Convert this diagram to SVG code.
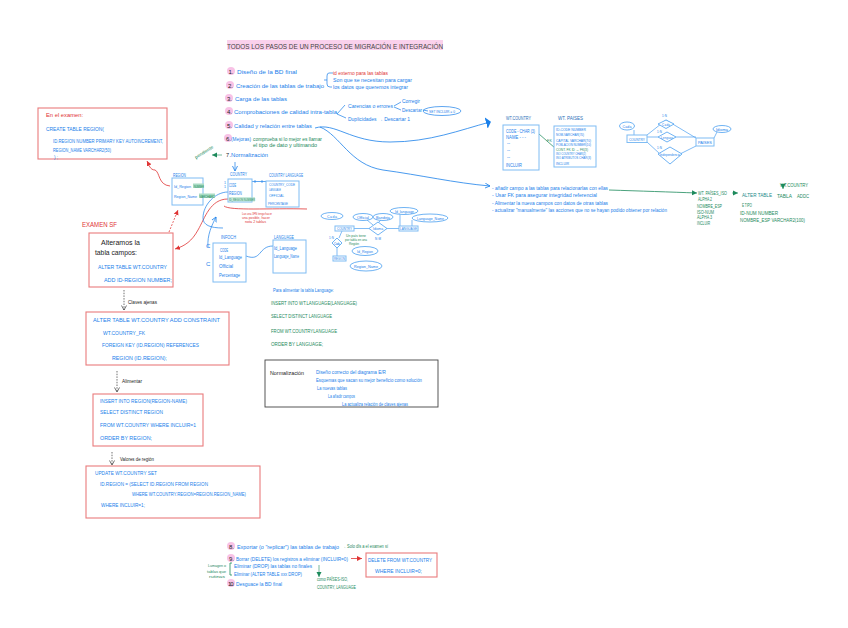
<svg xmlns="http://www.w3.org/2000/svg" width="848" height="628" viewBox="0 0 848 628">
<defs>
<marker id="ab" markerWidth="6" markerHeight="6" refX="5" refY="3" orient="auto" markerUnits="userSpaceOnUse"><path d="M0,0.5L5,3L0,5.5" fill="none" stroke="#1a80ea" stroke-width="0.8"/></marker>
<marker id="ar" markerWidth="6" markerHeight="6" refX="5" refY="3" orient="auto" markerUnits="userSpaceOnUse"><path d="M0,0.5L5,3L0,5.5Z" fill="#e03535"/></marker>
<marker id="ag" markerWidth="6" markerHeight="6" refX="5" refY="3" orient="auto" markerUnits="userSpaceOnUse"><path d="M0,0.5L5,3L0,5.5Z" fill="#1d8a5c"/></marker>
<marker id="ak" markerWidth="6" markerHeight="6" refX="5" refY="3" orient="auto" markerUnits="userSpaceOnUse"><path d="M0.5,0.5L5,3L0.5,5.5" fill="none" stroke="#333" stroke-width="0.7"/></marker>
<marker id="abig" markerWidth="6" markerHeight="14" refX="4" refY="7" orient="auto" markerUnits="userSpaceOnUse"><path d="M0,1L5,7L0,13Z" fill="#1a80ea"/></marker>
</defs>
<style>
text{font-family:"Liberation Sans",Arial,sans-serif;font-size:6px;fill:#1a80ea}
.s{font-size:4.6px}.xs{font-size:3.6px}.m{font-size:5.6px}.l{font-size:7.5px}
.g{fill:#1d8a5c}.r{fill:#e03535}.k{fill:#222}
.bb{fill:#fff;stroke:#7fbcf3;stroke-width:1}
.rb{fill:#fff;stroke:#e97b7c;stroke-width:1.1}
.c{fill:none;stroke:#1a80ea;stroke-width:.7}
.cr{fill:none;stroke:#e03535;stroke-width:.8}
.cg{fill:none;stroke:#1d8a5c;stroke-width:.8}
.pk{fill:#f8c2e6}
.hg{fill:#a9dcc4}
.e{fill:#fff;stroke:#4a9ff0;stroke-width:.8}
</style>

<g id="title">
<rect x="227" y="40" width="216" height="10" class="pk" opacity=".75"/>
<text x="227" y="48.500" class="l" style="fill:#444" textLength="216" lengthAdjust="spacingAndGlyphs">TODOS LOS PASOS DE UN PROCESO DE MIGRACIÓN E INTEGRACIÓN</text>
</g>

<g id="steps">
<circle cx="231" cy="71" r="4" class="pk"/><circle cx="230" cy="85" r="4" class="pk"/><circle cx="229" cy="98" r="4" class="pk"/><circle cx="229" cy="111" r="4" class="pk"/><circle cx="229" cy="125" r="4" class="pk"/><circle cx="228" cy="138" r="4" class="pk"/>
<text x="228.500" y="74" class="k" textLength="5">1.</text><text x="237" y="74" class="m" textLength="60" lengthAdjust="spacingAndGlyphs">Diseño de la BD final</text>
<text x="228" y="88" class="k" textLength="5">2.</text><text x="236" y="88" class="m" textLength="88" lengthAdjust="spacingAndGlyphs">Creación de las tablas de trabajo</text>
<text x="227" y="101" class="k" textLength="5">3.</text><text x="235" y="101" class="m" textLength="52" lengthAdjust="spacingAndGlyphs">Carga de las tablas</text>
<text x="227" y="114" class="k" textLength="5">4.</text><text x="234" y="114" class="m" textLength="103" lengthAdjust="spacingAndGlyphs">Comprobaciones de calidad intra-tabla</text>
<text x="227" y="128" class="k" textLength="5">5.</text><text x="234" y="128" class="m" textLength="78" lengthAdjust="spacingAndGlyphs">Calidad y relación entre tablas</text>
<text x="226" y="141" class="k" textLength="5">6.</text><text x="231" y="141" class="s" textLength="20" lengthAdjust="spacingAndGlyphs">(Mejoras)</text>
<text x="253" y="141" class="s g" textLength="69" lengthAdjust="spacingAndGlyphs">comprueba si lo mejor es llamar</text>
<text x="253" y="147" class="s g" textLength="64" lengthAdjust="spacingAndGlyphs">el tipo de dato y ultimando</text>
<text x="226" y="157" class="k m" textLength="5">7.</text><text x="231" y="157" class="s" textLength="37" lengthAdjust="spacingAndGlyphs">Normalización</text>
<text x="333" y="74.500" class="s r" textLength="55" lengthAdjust="spacingAndGlyphs">id externo para las tablas</text>
<text x="333" y="82" class="s" textLength="79" lengthAdjust="spacingAndGlyphs">Son que se necesitan para cargar</text>
<text x="333" y="88.500" class="s" textLength="75" lengthAdjust="spacingAndGlyphs">los datos que queremos integrar</text>
<text x="348" y="107.500" class="s" textLength="45" lengthAdjust="spacingAndGlyphs">Carencias o errores</text>
<text x="402" y="102.500" class="s" textLength="18" lengthAdjust="spacingAndGlyphs">Corregir</text>
<text x="402" y="111.500" class="s" textLength="20" lengthAdjust="spacingAndGlyphs">Descartar</text>
<text x="348" y="120.500" class="s" textLength="62" lengthAdjust="spacingAndGlyphs">Duplicidades → Descartar 1</text>
<path class="c" d="M333,73H329Q327,73 327,76V84Q327,87 330,87H332M327,80H324M337,114L345,105M337,114L346,118M394,106L401,102M394,107L401,110M423,110L428,111"/>
<ellipse cx="442" cy="111" rx="19" ry="4.500" fill="none" stroke="#1a80ea" stroke-width=".7"/>
<text x="429" y="112.500" style="font-size:3.300px" textLength="26" lengthAdjust="spacingAndGlyphs">SET INCLUIR = 0</text>
</g>

<g id="connectors">
<path class="c" style="stroke-width:.8" marker-end="url(#abig)" d="M315,128C335,122 350,142 390,142C430,142 460,130 490,122"/>
<path class="c" style="stroke-width:.8" marker-end="url(#ab)" d="M320,127C340,135 350,165 383,170C420,175 455,183 490,186"/>
<path class="c" marker-end="url(#ab)" d="M235,162L235,171"/>
<path class="cg" style="stroke-width:.6" marker-end="url(#ag)" d="M222,155L212,155"/>
<path class="cr" marker-end="url(#ar)" d="M170,186C158,185 160,172 155,170C150,170 149,165 147,161"/>
<path class="cr" marker-end="url(#ar)" d="M228,199C210,199 205,218 198,230C192,241 185,246 175,249"/>
<path class="cr" stroke-dasharray="1.800 1.500" marker-end="url(#ar)" d="M169,232L178,210"/>
<path class="c" d="M228,192C215,192 203,205 203,218C203,225 210,228 223,228"/>
<path class="c" marker-end="url(#ab)" d="M208,247C207,235 212,225 216,217"/>
<path class="c" d="M252,181.500H266M262,180V183M255,180V183M246,256C262,262 258,246 273,246"/>
<path class="cr" d="M224,206C230,211 270,208 307,209"/>
<path d="M124,290V310" fill="none" stroke="#333" stroke-width=".7" stroke-dasharray="1.500 1.200" marker-end="url(#ak)"/>
<path d="M117,371V392" fill="none" stroke="#333" stroke-width=".7" stroke-dasharray="1.500 1.200" marker-end="url(#ak)"/>
<path d="M112,452V465" fill="none" stroke="#333" stroke-width=".7" stroke-dasharray="1.500 1.200" marker-end="url(#ak)"/>
<path class="cg" style="stroke:#2f9468" d="M539,134L555,148"/>
<path class="cg" marker-end="url(#ag)" d="M609,190C640,191 670,192 697,193"/>
<path class="cg" style="stroke-width:.6" marker-end="url(#ag)" d="M732,193H738"/>
<path class="cg" style="stroke-width:.6" marker-end="url(#ag)" d="M783,186V189"/>
<path class="cr" marker-end="url(#ar)" d="M351,558.500H362"/>
<path class="cg" style="stroke-width:.6" marker-end="url(#ag)" d="M319,565V577"/>
<path class="cg" d="M232,563H230V575H232"/>
<path class="c" d="M309,372H314M309,372V379H313"/>
</g>

<g id="region-sql">
<rect x="38" y="108" width="129" height="51" class="rb"/>
<text x="46" y="116.500" class="r s" textLength="37" lengthAdjust="spacingAndGlyphs">En el examen:</text>
<text x="46" y="130.500" class="s" textLength="58" lengthAdjust="spacingAndGlyphs">CREATE TABLE REGION(</text>
<text x="53" y="142.500" class="s" textLength="110" lengthAdjust="spacingAndGlyphs">ID.REGION NUMBER PRIMARY KEY AUTOINCREMENT,</text>
<text x="53" y="151.500" class="s" textLength="58" lengthAdjust="spacingAndGlyphs">REGION_NAME VARCHAR2(50)</text>
<text x="54" y="159" class="s" textLength="4">);</text>
</g>

<g id="region">
<rect x="172" y="178" width="31" height="27" class="bb"/>
<text x="173" y="177" class="s" textLength="13" lengthAdjust="spacingAndGlyphs">REGION</text>
<rect x="193" y="183.500" width="11" height="4.500" class="hg"/><rect x="199" y="193.500" width="16" height="4.500" class="hg"/>
<text x="174" y="187.500" style="font-size:3.600px" textLength="17" lengthAdjust="spacingAndGlyphs">Id_Region</text>
<text x="194" y="187.500" style="font-size:2.800px" class="g" textLength="10" lengthAdjust="spacingAndGlyphs">NUMBER</text>
<text x="174" y="197.500" style="font-size:3.600px" textLength="23" lengthAdjust="spacingAndGlyphs">Region_Name</text>
<text x="199.500" y="197.500" style="font-size:2.800px" class="g" textLength="15" lengthAdjust="spacingAndGlyphs">VARCHAR2</text>
<text transform="translate(196,159) rotate(-32)" class="s g" textLength="21" lengthAdjust="spacingAndGlyphs">pendiente</text>
</g>

<text x="82" y="226.500" class="r" style="font-size:7px" textLength="35" lengthAdjust="spacingAndGlyphs">EXAMEN SF</text>

<g id="alter-add">
<rect x="89" y="233" width="84" height="54" class="rb"/>
<text x="101" y="245" class="k" style="font-size:7px" textLength="39" lengthAdjust="spacingAndGlyphs">Alteramos la</text>
<text x="95" y="254.500" class="k" style="font-size:7px" textLength="42" lengthAdjust="spacingAndGlyphs">tabla campos:</text>
<text x="98" y="269" style="font-size:6px" textLength="69" lengthAdjust="spacingAndGlyphs">ALTER TABLE WT.COUNTRY</text>
<text x="104" y="282" style="font-size:6px" textLength="68" lengthAdjust="spacingAndGlyphs">ADD ID-REGION NUMBER;</text>
</g>
<text x="128" y="304" class="s k" textLength="29" lengthAdjust="spacingAndGlyphs">Claves ajenas</text>

<g id="country">
<rect x="228" y="179" width="24" height="23" class="bb"/>
<text x="230" y="176" class="s" textLength="17" lengthAdjust="spacingAndGlyphs">COUNTRY</text>
<text x="229" y="186.500" class="s" textLength="7" lengthAdjust="spacingAndGlyphs">CODE</text>
<text x="229" y="194.500" class="s" textLength="13" lengthAdjust="spacingAndGlyphs">REGION</text>
<rect x="229" y="197" width="26" height="4.500" class="hg" opacity=".6"/>
<text x="229" y="201" class="g" style="font-size:3.200px" textLength="26" lengthAdjust="spacingAndGlyphs">ID_REGION NUMBER</text>
<text x="224" y="184" class="xs" textLength="2">1</text><text x="224" y="187.500" class="xs" textLength="2">1</text>
</g>

<g id="country-language">
<rect x="266" y="181" width="33" height="26" class="bb"/>
<text x="269" y="177" class="s" textLength="34" lengthAdjust="spacingAndGlyphs">COUNTRY LANGUAGE</text>
<text x="269" y="185.500" class="xs" textLength="26" lengthAdjust="spacingAndGlyphs">COUNTRY_CODE</text>
<text x="269" y="190.500" class="xs" textLength="12" lengthAdjust="spacingAndGlyphs">LANGUAGE</text>
<text x="269" y="196.500" class="xs" textLength="15" lengthAdjust="spacingAndGlyphs">OFFICIAL</text>
<text x="268" y="204.500" class="xs" textLength="20" lengthAdjust="spacingAndGlyphs">PERCENTAGE</text>
</g>
<text x="242" y="215" class="xs r" textLength="30" lengthAdjust="spacingAndGlyphs">Las una 3FN tengo hacer</text>
<text x="242" y="219" class="xs r" textLength="28" lengthAdjust="spacingAndGlyphs">una posible, hacer</text>
<text x="245" y="223" class="xs r" textLength="21" lengthAdjust="spacingAndGlyphs">nota 2 tablas</text>

<g id="infoch">
<rect x="213" y="243" width="33" height="39" class="bb"/>
<text x="221" y="238.500" class="s" textLength="15" lengthAdjust="spacingAndGlyphs">INFOCH</text>
<text x="220" y="251.500" class="s" textLength="8" lengthAdjust="spacingAndGlyphs">CODE</text>
<text x="219" y="258.500" class="s" textLength="23" lengthAdjust="spacingAndGlyphs">Id_Language</text>
<text x="219" y="267.500" class="s" textLength="14" lengthAdjust="spacingAndGlyphs">Official</text>
<text x="219" y="276.500" class="s" textLength="21" lengthAdjust="spacingAndGlyphs">Percentage</text>
<text x="206" y="248" textLength="4">C</text><text x="206" y="266" textLength="4">C</text>
</g>

<g id="language">
<rect x="273" y="240" width="33" height="33" class="bb"/>
<text x="274" y="238.500" class="s" textLength="20" lengthAdjust="spacingAndGlyphs">LANGUAGE</text>
<text x="274" y="249.500" class="s" textLength="23" lengthAdjust="spacingAndGlyphs">Id_Language</text>
<text x="274" y="257.500" class="s" textLength="25" lengthAdjust="spacingAndGlyphs">Language_Name</text>
</g>

<g id="er-left">
<path class="c" style="stroke:#4a9ff0" d="M354,228.500H369M387,228.500H399M400,215V226M412,220V226M367,220L373,225M381,220L377,224M342,231L339,238M337,248V256"/>
<ellipse cx="332" cy="216" rx="11" ry="3.500" class="e"/><text x="327" y="217.500" class="xs" textLength="10">Cada</text>
<rect x="335" y="226" width="19" height="5" class="bb"/><text x="337" y="230" class="xs" textLength="15" lengthAdjust="spacingAndGlyphs">COUNTRY</text>
<path d="M378,222L387,228.500L378,235L369,228.500Z" class="e"/><text x="373" y="230" class="xs" textLength="10" lengthAdjust="spacingAndGlyphs">Idioma</text>
<ellipse cx="363" cy="217" rx="10" ry="3.500" class="e"/><text x="357" y="218.500" class="xs" textLength="12" lengthAdjust="spacingAndGlyphs">Official</text>
<ellipse cx="383" cy="217" rx="10" ry="3.500" class="e"/><text x="376" y="218.500" class="xs" textLength="14" lengthAdjust="spacingAndGlyphs">Bandeja</text>
<ellipse cx="404" cy="211" rx="14" ry="3.500" class="e"/><text x="395" y="212.500" class="xs" textLength="19" lengthAdjust="spacingAndGlyphs">Id_language</text>
<ellipse cx="430" cy="218" rx="18" ry="4" class="e"/><text x="417" y="219.500" class="xs" textLength="27" lengthAdjust="spacingAndGlyphs">Language_Name</text>
<rect x="399" y="226" width="19" height="5" class="bb"/><text x="400" y="230" class="xs" textLength="17" lengthAdjust="spacingAndGlyphs">LANGUAGE</text>
<path d="M337,238L342,243L337,248L332,243Z" class="e"/><text x="334" y="244.500" style="font-size:3px" textLength="6">Cada</text>
<rect x="333" y="256" width="13" height="5" class="bb"/><text x="334" y="260" class="xs" textLength="11" lengthAdjust="spacingAndGlyphs">REGION</text>
<text x="329" y="239" style="font-size:3px" textLength="5">1:N</text><text x="375" y="240" style="font-size:3px" textLength="6">N:M</text>
<text x="346" y="237" class="xs g" textLength="20" lengthAdjust="spacingAndGlyphs">Un país tiene</text>
<text x="345" y="241" class="xs g" textLength="22" lengthAdjust="spacingAndGlyphs">por tabla en una</text>
<text x="349" y="245" class="xs g" textLength="10" lengthAdjust="spacingAndGlyphs">Región</text>
<ellipse cx="365" cy="251" rx="13" ry="4.500" class="e"/><text x="357" y="252.500" style="font-size:4px" textLength="16" lengthAdjust="spacingAndGlyphs">Id_Region</text>
<ellipse cx="366" cy="266" rx="16" ry="5" class="e"/><text x="354" y="267.500" style="font-size:4px" textLength="24" lengthAdjust="spacingAndGlyphs">Region_Name</text>
</g>

<g id="language-sql">
<text x="273" y="292" class="s" textLength="61" lengthAdjust="spacingAndGlyphs">Para alimentar la tabla Language:</text>
<text x="271" y="305" class="m g" textLength="86" lengthAdjust="spacingAndGlyphs">INSERT INTO WT.LANGUAGE(LANGUAGE)</text>
<text x="271" y="318" class="m g" textLength="61" lengthAdjust="spacingAndGlyphs">SELECT DISTINCT LANGUAGE</text>
<text x="271" y="333" class="m g" textLength="66" lengthAdjust="spacingAndGlyphs">FROM WT.COUNTRYLANGUAGE</text>
<text x="271" y="346" class="m g" textLength="52" lengthAdjust="spacingAndGlyphs">ORDER BY LANGUAGE;</text>
</g>

<g id="normalizacion">
<rect x="265" y="360" width="173" height="47" fill="#fff" stroke="#444" stroke-width=".9"/>
<text x="270" y="374.500" class="m k" textLength="34" lengthAdjust="spacingAndGlyphs">Normalización</text>
<text x="316" y="373.500" class="s" textLength="70" lengthAdjust="spacingAndGlyphs">Diseño correcto del diagrama E/R</text>
<text x="316" y="381.500" class="s" textLength="106" lengthAdjust="spacingAndGlyphs">Esquemas que sacan su mejor beneficio como solución</text>
<text x="317" y="389.500" class="s" textLength="30" lengthAdjust="spacingAndGlyphs">La nuevas tablas</text>
<text x="328" y="397.500" class="s" textLength="27" lengthAdjust="spacingAndGlyphs">La añadir campos</text>
<text x="342" y="405.500" class="s" textLength="66" lengthAdjust="spacingAndGlyphs">La actualiza relación de claves ajenas</text>
</g>

<g id="alter-constraint">
<rect x="86" y="312" width="143" height="53" class="rb"/>
<text x="93" y="322" class="m" textLength="127" lengthAdjust="spacingAndGlyphs">ALTER TABLE WT.COUNTRY ADD CONSTRAINT</text>
<text x="103" y="334.500" class="m" textLength="42" lengthAdjust="spacingAndGlyphs">WT.COUNTRY_FK</text>
<text x="102" y="346.500" class="m" textLength="97" lengthAdjust="spacingAndGlyphs">FOREIGN KEY (ID.REGION) REFERENCES</text>
<text x="112" y="359.500" class="m" textLength="55" lengthAdjust="spacingAndGlyphs">REGION (ID.REGION);</text>
</g>
<text x="122" y="382.500" class="s k" textLength="20" lengthAdjust="spacingAndGlyphs">Alimentar</text>

<g id="insert-region">
<rect x="93" y="394" width="110" height="52" class="rb"/>
<text x="100" y="402.500" class="m" textLength="87" lengthAdjust="spacingAndGlyphs">INSERT INTO REGION(REGION-NAME)</text>
<text x="100" y="413.500" class="m" textLength="63" lengthAdjust="spacingAndGlyphs">SELECT DISTINCT REGION</text>
<text x="100" y="426.500" class="m" textLength="96" lengthAdjust="spacingAndGlyphs">FROM WT.COUNTRY WHERE INCLUIR=1</text>
<text x="100" y="439.500" class="m" textLength="52" lengthAdjust="spacingAndGlyphs">ORDER BY REGION;</text>
</g>
<text x="120" y="460.500" class="s k" textLength="34" lengthAdjust="spacingAndGlyphs">Valores de región</text>

<g id="update">
<rect x="86" y="466" width="174" height="52" class="rb"/>
<text x="95" y="474.500" class="m" textLength="62" lengthAdjust="spacingAndGlyphs">UPDATE WT.COUNTRY SET</text>
<text x="100" y="485.500" class="m" textLength="108" lengthAdjust="spacingAndGlyphs">ID.REGION = (SELECT ID.REGION FROM REGION</text>
<text x="132" y="495.500" class="m" textLength="114" lengthAdjust="spacingAndGlyphs">WHERE WT.COUNTRY.REGION=REGION.REGION_NAME)</text>
<text x="101" y="506.500" class="m" textLength="44" lengthAdjust="spacingAndGlyphs">WHERE INCLUIR=1;</text>
</g>

<g id="final-steps">
<circle cx="231" cy="546" r="4" class="pk"/><circle cx="231" cy="558" r="4" class="pk"/><circle cx="231" cy="583" r="4" class="pk"/>
<text x="229" y="548.500" class="k" textLength="5">8.</text><text x="229" y="560.500" class="k" textLength="5">9.</text><text x="228" y="585.500" class="k" textLength="6">10.</text>
<text x="237" y="548.500" class="s" textLength="102" lengthAdjust="spacingAndGlyphs">Exportar (o "replicar") las tablas de trabajo</text>
<text x="342" y="548" class="s g" textLength="46" lengthAdjust="spacingAndGlyphs">→ Solo dls a el examen sí</text>
<text x="236" y="560.500" class="s" textLength="112" lengthAdjust="spacingAndGlyphs">Borrar (DELETE) los registros a eliminar (INCLUIR=0)</text>
<text x="234" y="568" class="s" textLength="78" lengthAdjust="spacingAndGlyphs">Eliminar (DROP) las tablas no finales</text>
<text x="234" y="576" class="s" textLength="68" lengthAdjust="spacingAndGlyphs">Eliminar (ALTER TABLE xxx DROP)</text>
<text x="236" y="585.500" class="s" textLength="46" lengthAdjust="spacingAndGlyphs">Desguace la BD final</text>
<text x="208" y="567" class="xs g" textLength="18" lengthAdjust="spacingAndGlyphs">Lumagen o</text>
<text x="207" y="572.500" class="xs g" textLength="19" lengthAdjust="spacingAndGlyphs">tablas que</text>
<text x="209" y="578" class="xs g" textLength="16" lengthAdjust="spacingAndGlyphs">rutinas</text>
<text x="317" y="580.500" class="s g" textLength="31" lengthAdjust="spacingAndGlyphs">como PAÍSES-ISO,</text>
<text x="317" y="589" class="s g" textLength="39" lengthAdjust="spacingAndGlyphs">COUNTRY, LANGUAGE</text>
</g>

<g id="delete-sql">
<rect x="366" y="553" width="71" height="24" class="rb"/>
<text x="368" y="562" class="m" textLength="64" lengthAdjust="spacingAndGlyphs">DELETE FROM WT.COUNTRY</text>
<text x="375" y="573" class="m" textLength="47" lengthAdjust="spacingAndGlyphs">WHERE INCLUIR=0;</text>
</g>

<g id="wt-country">
<text x="506" y="119.500" class="s" style="fill:#2a6fb8" textLength="25" lengthAdjust="spacingAndGlyphs">WT.COUNTRY</text>
<rect x="503" y="125" width="36" height="45" class="bb"/>
<text x="506" y="133" class="s" textLength="29" lengthAdjust="spacingAndGlyphs">CODE - CHAR (3)</text>
<text x="506" y="139" class="s" textLength="20" lengthAdjust="spacingAndGlyphs">NAME - - -</text>
<text x="507" y="145" class="s">--</text><text x="507" y="152" class="s">--</text><text x="507" y="159" class="s">--</text>
<text x="506" y="167" class="s" textLength="16" lengthAdjust="spacingAndGlyphs">INCLUIR</text>
<text x="547" y="141.500" class="xs g" textLength="5">FK</text>
</g>

<g id="wt-paises">
<text x="558" y="119.500" class="s" style="fill:#2a6fb8" textLength="25" lengthAdjust="spacingAndGlyphs">WT. PAISES</text>
<rect x="554" y="126" width="42" height="41" class="bb"/>
<text x="556" y="130.500" class="xs" textLength="30" lengthAdjust="spacingAndGlyphs">ID-CODE NUMBER</text>
<text x="556" y="135.500" class="xs" textLength="28" lengthAdjust="spacingAndGlyphs">NOM-VARCHAR(70)</text>
<text x="556" y="141.500" class="xs" textLength="35" lengthAdjust="spacingAndGlyphs">CAPITAL VARCHAR(70)</text>
<text x="556" y="146" class="xs" textLength="35" lengthAdjust="spacingAndGlyphs">POBLACION NUMBER(10)</text>
<text x="556" y="150.500" class="xs g" textLength="32" lengthAdjust="spacingAndGlyphs">CONT. FK ID → FK(3)</text>
<text x="556" y="155" class="xs" textLength="30" lengthAdjust="spacingAndGlyphs">ISO COUNTRY CHAR(2)</text>
<text x="556" y="159" class="xs" textLength="35" lengthAdjust="spacingAndGlyphs">ISO ATRIBUTOS CHAR(3)</text>
<text x="556" y="165" class="xs" textLength="13" lengthAdjust="spacingAndGlyphs">INCLUIR</text>
</g>

<g id="er-right">
<path class="c" style="stroke:#4a9ff0" d="M647,135L666,120L696,138M647,137H658M676,137H696M647,142L660,154M680,154L696,146M634,130V135M714,138L717,132"/>
<ellipse cx="627" cy="126" rx="7.500" ry="4" class="e"/><text x="622.500" y="127.500" class="xs" textLength="9">Cada</text>
<rect x="627" y="135" width="20" height="7.500" class="bb"/><text x="629" y="140.500" class="xs" textLength="16" lengthAdjust="spacingAndGlyphs">COUNTRY</text>
<rect x="696" y="138" width="18" height="8" class="bb"/><text x="698" y="143.500" class="xs" textLength="14" lengthAdjust="spacingAndGlyphs">PAISES</text>
<ellipse cx="722" cy="129" rx="9" ry="3.500" class="e"/><text x="716" y="130.500" class="xs" textLength="12" lengthAdjust="spacingAndGlyphs">Idioma</text>
<path d="M666,120L674,124L666,128.500L658,124Z" class="e"/><text x="662" y="125.500" style="font-size:3px" textLength="8">Cada</text>
<path d="M667,132L676,137L667,142L658,137Z" class="e"/><text x="661" y="138.500" style="font-size:3px" textLength="12">Lenguas</text>
<path d="M670,147L682,154L670,164L658,154Z" class="e"/><text x="660" y="155.500" style="font-size:3px" textLength="20">Independencia</text>
<text x="662" y="117" style="font-size:3px" textLength="5">1:N</text><text x="657" y="133" style="font-size:3px" textLength="5">1:N</text><text x="657" y="149" style="font-size:3px" textLength="5">1:N</text>
</g>

<g id="notes-right">
<text x="492" y="190" class="s" textLength="116" lengthAdjust="spacingAndGlyphs">- añadir campo a las tablas para relacionarlas con ellas</text>
<text x="492" y="197" class="s" textLength="105" lengthAdjust="spacingAndGlyphs">- Usar FK para asegurar integridad referencial</text>
<text x="492" y="204.500" class="s" textLength="116" lengthAdjust="spacingAndGlyphs">- Alimentar la nueva campos con datos de otras tablas</text>
<text x="492" y="211.500" class="s" textLength="175" lengthAdjust="spacingAndGlyphs">- actualizar "manualmente" las acciones que no se hayan podido obtener por relación</text>
</g>

<g id="wt-paises-iso">
<text x="698" y="195" class="s g" textLength="29" lengthAdjust="spacingAndGlyphs">WT. PAÍSES_ISO</text>
<text x="698" y="201" class="s g" textLength="14" lengthAdjust="spacingAndGlyphs">ALPHA 2</text>
<text x="697" y="207.500" class="s g" textLength="25" lengthAdjust="spacingAndGlyphs">NOMBRE_ESP</text>
<text x="697" y="214" class="s g" textLength="17" lengthAdjust="spacingAndGlyphs">ISO-NUM</text>
<text x="697" y="219" class="s g" textLength="15" lengthAdjust="spacingAndGlyphs">ALPHA 3</text>
<text x="697" y="225" class="s g" textLength="13" lengthAdjust="spacingAndGlyphs">INCLUIR</text>
<text x="780" y="186.500" class="s g" textLength="28" lengthAdjust="spacingAndGlyphs">WT.COUNTRY</text>
<text x="742" y="197" class="s" style="fill:#1a8a8a" textLength="30" lengthAdjust="spacingAndGlyphs">ALTER TABLE</text>
<text x="777" y="197.500" class="m g" textLength="15" lengthAdjust="spacingAndGlyphs">TABLA</text>
<text x="797" y="197.500" class="m g" textLength="12" lengthAdjust="spacingAndGlyphs">ADDC</text>
<text x="742" y="206.500" class="s g" textLength="10" lengthAdjust="spacingAndGlyphs">E TIPO</text>
<text x="740" y="214.500" class="s g" textLength="38" lengthAdjust="spacingAndGlyphs">ID-NUM NUMBER</text>
<text x="740" y="221.500" class="s g" textLength="65" lengthAdjust="spacingAndGlyphs">NOMBRE_ESP VARCHAR2(100)</text>
</g>
</svg>
